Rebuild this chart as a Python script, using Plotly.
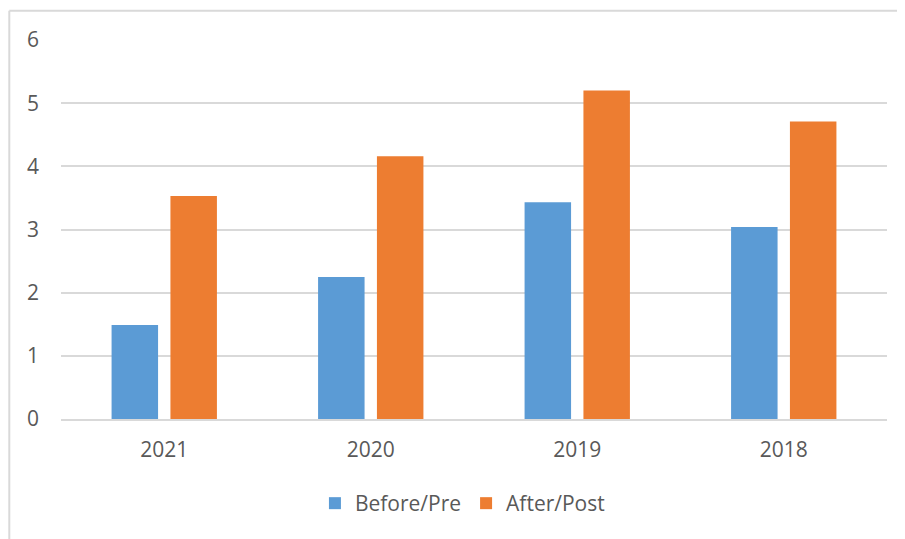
import plotly.graph_objects as go

years = ["2021", "2020", "2019", "2018"]
before_pre = [1.49, 2.25, 3.43, 3.04]
after_post = [3.53, 4.16, 5.20, 4.71]

text_color = "#595959"
grid_color = "#D9D9D9"

fig = go.Figure()
fig.add_trace(go.Bar(x=years, y=before_pre, name="Before/Pre",
                     marker=dict(color="#5B9BD5", line=dict(width=0))))
fig.add_trace(go.Bar(x=years, y=after_post, name="After/Post",
                     marker=dict(color="#ED7D31", line=dict(width=0))))

# outer chart frame (only left and top edges are visible in the crop)
fig.add_shape(type="line", xref="paper", yref="paper",
              x0=-0.0626, x1=-0.0626, y0=-0.4, y1=1.0774,
              line=dict(color=grid_color, width=2))
fig.add_shape(type="line", xref="paper", yref="paper",
              x0=-0.0626, x1=1.1, y0=1.0774, y1=1.0774,
              line=dict(color=grid_color, width=2))

# page body adds an 8px offset, so the figure is 8px smaller
fig.update_layout(
    width=897, height=531,
    margin=dict(l=53, r=18, t=32, b=120),
    paper_bgcolor="white", plot_bgcolor="white",
    font=dict(family="Open Sans", size=21, color=text_color),
    barmode="group", bargap=0.43, bargroupgap=0.21,
    showlegend=True,
    legend=dict(orientation="h", x=0.486, xanchor="center", y=-0.223, yanchor="middle",
                font=dict(size=21, color=text_color), itemwidth=30),
    xaxis=dict(showgrid=False, showline=True, linecolor=grid_color, linewidth=2,
               ticks="", ticklabelstandoff=11),
    yaxis=dict(range=[0, 6], dtick=1, showgrid=True, gridcolor=grid_color, gridwidth=2,
               zeroline=False, showline=False, ticks="", ticklabelstandoff=21),
)

fig.write_html("out.html")
